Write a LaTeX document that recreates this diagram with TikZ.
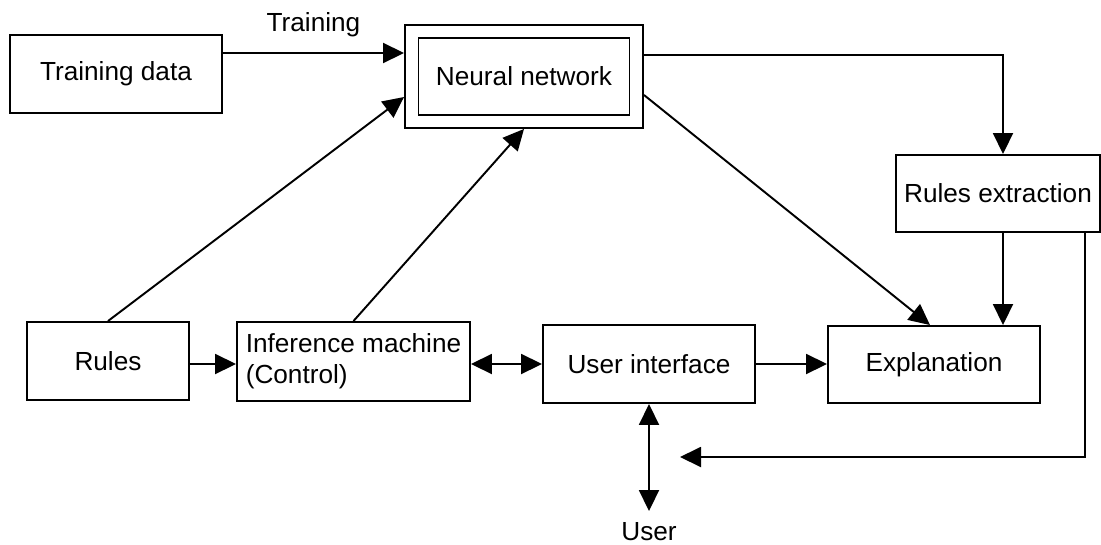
\documentclass[tikz,border=0pt]{standalone}
\usepackage{fontspec}
\setmainfont{Liberation Sans}
\usetikzlibrary{arrows.meta}

\begin{document}
\begin{tikzpicture}[
    font=\fontsize{14.9}{17.6}\selectfont,
    line width=1.1pt,
    box/.style={draw, minimum width=#1, minimum height=1.56cm, inner sep=2pt},
    arrow/.style={-{Triangle[length=0.42cm, width=0.4cm]}},
    twoway/.style={{Triangle[length=0.42cm, width=0.4cm]}-{Triangle[length=0.42cm, width=0.4cm]}}
  ]
        \useasboundingbox (0,0) rectangle (22.02,-10.88);

        % Boxes
        \node[box=4.24cm] (data) at (2.32,-1.48) {Training data};
        \node[draw, minimum width=4.76cm, minimum height=2.06cm] (nn) at (10.48,-1.53) {};
        \node[box=4.22cm, minimum height=1.54cm] (nninner) at (nn) {Neural network};
        \node[box=4.08cm, minimum height=1.54cm] (rex) at (19.96,-3.87) {Rules extraction};
        \node[box=3.24cm] (rules) at (2.16,-7.22) {Rules};
        \node[box=4.66cm, minimum height=1.58cm, align=left] (inf) at (7.07,-7.23) {Inference machine\\(Control)};
        \node[box=4.24cm] (ui) at (12.98,-7.28) {User interface};
        \node[box=4.24cm, minimum height=1.54cm] (expl) at (18.68,-7.29) {Explanation};
        \node (user) at (12.98,-10.64) {User};
        \coordinate (back) at (13.6,-9.14);

        % Arrows
        \draw[arrow] ([yshift=0.42cm]data.east) -- ([yshift=0.42cm]data.east -| nn.west)
            node[midway, above=5pt] {Training};
        \draw[arrow] (rules.north) -- ([yshift=-0.41cm]nn.west);
        \draw[arrow] (inf.north) -- (nn.south);
        \draw[arrow] ([yshift=0.43cm]nn.east) -| ([xshift=0.1cm]rex.north);
        \draw[arrow] ([yshift=-0.37cm]nn.east) -- ([xshift=-0.08cm]expl.north);
        \draw[arrow] ([xshift=0.1cm]rex.south) -- ([xshift=0.1cm]rex.south |- expl.north);
        \draw[arrow] ([yshift=-0.06cm]rules.east) -- ([yshift=-0.06cm]rules.east -| inf.west);
        \draw[twoway] (ui.west -| inf.east) -- (ui.west);
        \draw[arrow] (ui.east) -- (ui.east -| expl.west);
        \draw[twoway] (ui.south) -- ([yshift=0.1cm]user.north);
        \draw[arrow] ([xshift=1.74cm]rex.south) |- (back);
\end{tikzpicture}
\end{document}
